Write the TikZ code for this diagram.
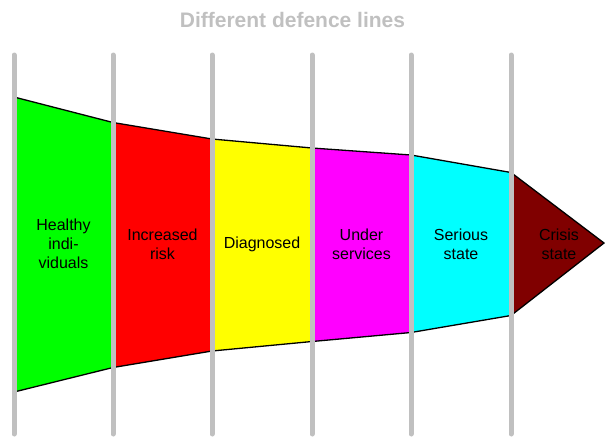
\documentclass[tikz,border=0pt]{standalone}
\usepackage{fontspec}
\setmainfont{Liberation Sans}
\definecolor{bargray}{HTML}{C0C0C0}
\definecolor{cgreen}{HTML}{00FF00}
\definecolor{cred}{HTML}{FF0000}
\definecolor{cyellow}{HTML}{FFFF00}
\definecolor{cmagenta}{HTML}{FF00FF}
\definecolor{ccyan}{HTML}{00FFFF}
\definecolor{crisis}{HTML}{800000}
\tikzset{
  seg/.style={draw=black, line width=1.3pt, line join=miter},
  bar/.style={draw=bargray, line width=5pt, line cap=round},
  lbl/.style={align=center, font=\fontsize{16}{19}\selectfont, text=black, inner sep=0pt},
  ttl/.style={font=\fontsize{21}{25}\selectfont\bfseries, text=bargray, inner sep=0pt}
}
\begin{document}
\begin{tikzpicture}[x=1pt,y=-1pt]
\useasboundingbox (0,0) rectangle (605,437);
% segments
\filldraw[seg, fill=cgreen] (14,97) -- (113,122.5) -- (113,367.5) -- (14,392) -- cycle;
\filldraw[seg, fill=cred] (113,122.5) -- (212,139) -- (212,351) -- (113,367.5) -- cycle;
\filldraw[seg, fill=cyellow] (212,139) -- (312,148) -- (312,341.5) -- (212,351) -- cycle;
\filldraw[seg, fill=cmagenta] (312,148) -- (411,155) -- (411,332.5) -- (312,341.5) -- cycle;
\filldraw[seg, fill=ccyan] (411,155) -- (511,172.5) -- (511,315.5) -- (411,332.5) -- cycle;
\filldraw[seg, fill=crisis] (511,172.5) -- (604,243) -- (511,315.5) -- cycle;
% bars
\foreach \x in {14,113,212,312,411,511}
  \draw[bar] (\x,55) -- (\x,434);
% title
\node[ttl] (title) at (292.5,19.5) {Different defence lines};
% labels
\node[lbl] (healthy) at (63.5,244) {Healthy\\indi-\\viduals};
\node[lbl] (risk) at (162.5,244) {Increased\\risk};
\node[lbl] (diag) at (262,244) {Diagnosed};
\node[lbl] (under) at (361.5,244) {Under\\services};
\node[lbl] (serious) at (461,244) {Serious\\state};
\node[lbl] (crisis) at (559,244) {Crisis\\state};
\end{tikzpicture}
\end{document}
